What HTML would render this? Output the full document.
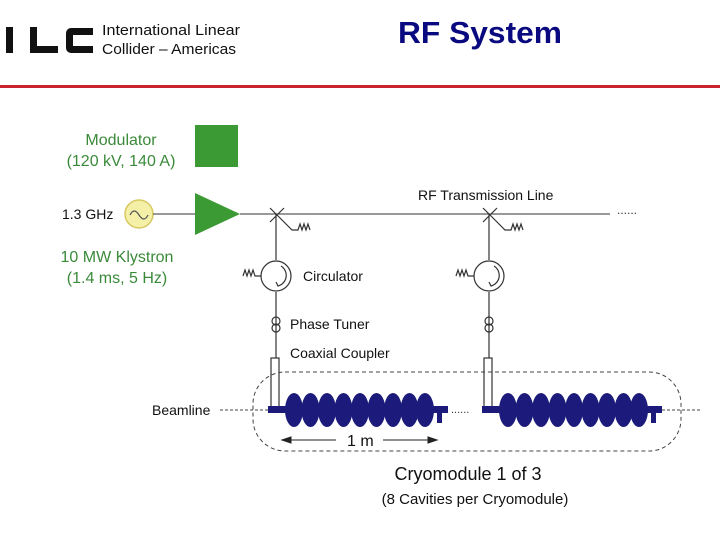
<!DOCTYPE html><html><head><style>body{margin:0;width:720px;height:540px;background:#fff;overflow:hidden}</style></head><body>
<svg width="720" height="540" xmlns="http://www.w3.org/2000/svg" font-family="Liberation Sans, sans-serif">
<!-- header -->
<rect x="6" y="27" width="7" height="26" fill="#111"/>
<path d="M30 27v26h28v-7H37V27z" fill="#111"/>
<path d="M93 28h-22a5 5 0 0 0-5 5v15a5 5 0 0 0 5 5h22v-7H73V35h20z" fill="#111"/>
<text x="102" y="35" font-size="15" fill="#111" textLength="138" lengthAdjust="spacingAndGlyphs">International Linear</text>
<text x="102" y="54" font-size="15" fill="#111" textLength="134" lengthAdjust="spacingAndGlyphs">Collider – Americas</text>
<text x="398" y="43" font-size="31" font-weight="bold" fill="#0a0a80" textLength="164" lengthAdjust="spacingAndGlyphs">RF System</text>
<rect x="0" y="85" width="720" height="3" fill="#c8262c"/>
<!-- modulator -->
<text x="121" y="145" font-size="16" fill="#3a8a3a" text-anchor="middle">Modulator</text>
<text x="121" y="166" font-size="16" fill="#3a8a3a" text-anchor="middle">(120 kV, 140 A)</text>
<rect x="195" y="125" width="43" height="42" fill="#3c9a34"/>
<text x="62" y="219" font-size="14" fill="#111">1.3 GHz</text>
<circle cx="139" cy="214" r="14" fill="#f4f0a8" stroke="#d8c860" stroke-width="1.5"/>
<path d="M130 215q4-8 9 0t9 0" fill="none" stroke="#555" stroke-width="1.2"/>
<line x1="153" y1="214" x2="195" y2="214" stroke="#333"/>
<polygon points="195,193 240,214 195,235" fill="#3c9a34"/>
<line x1="240" y1="214" x2="610" y2="214" stroke="#333"/>
<text x="617" y="214" font-size="12" fill="#333">......</text>
<text x="418" y="200" font-size="14" fill="#111">RF Transmission Line</text>
<text x="117" y="262" font-size="16" fill="#3a8a3a" text-anchor="middle">10 MW Klystron</text>
<text x="117" y="283" font-size="16" fill="#3a8a3a" text-anchor="middle">(1.4 ms, 5 Hz)</text>
<g stroke="#333" fill="none" stroke-width="1.2">
<path d="M276 214V260M276 292V358M270 208l14 14M284 208l-14 14M284 222l8 8h6l2-6 2 6 2-6 2 6 2-6 2 6"/>
<circle cx="276" cy="276" r="15"/>
<path d="M281 266a11 11 0 0 1-3 20l-2-4"/>
<path d="M261 276h-6l-2-6-2 6-2-6-2 6-2-6-2 6"/>
<circle cx="276" cy="321" r="4"/><circle cx="276" cy="328" r="4"/>
<rect x="271" y="358" width="8" height="50" fill="#fff"/>
<path d="M489 214V260M489 292V358M483 208l14 14M497 208l-14 14M497 222l8 8h6l2-6 2 6 2-6 2 6 2-6 2 6"/>
<circle cx="489" cy="276" r="15"/>
<path d="M494 266a11 11 0 0 1-3 20l-2-4"/>
<path d="M474 276h-6l-2-6-2 6-2-6-2 6-2-6-2 6"/>
<circle cx="489" cy="321" r="4"/><circle cx="489" cy="328" r="4"/>
<rect x="484" y="358" width="8" height="50" fill="#fff"/>
</g>
<text x="303" y="281" font-size="14" fill="#111">Circulator</text>
<text x="290" y="329" font-size="14" fill="#111">Phase Tuner</text>
<text x="290" y="358" font-size="14" fill="#111">Coaxial Coupler</text>
<rect x="253" y="372" width="428" height="79" rx="32" fill="none" stroke="#444" stroke-dasharray="4,3"/>
<line x1="220" y1="410" x2="268" y2="410" stroke="#444" stroke-dasharray="3,2"/>
<line x1="662" y1="410" x2="700" y2="410" stroke="#444" stroke-dasharray="3,2"/>
<text x="152" y="415" font-size="14" fill="#111">Beamline</text>
<text x="451" y="413" font-size="11" fill="#333">......</text>
<g fill="#1c1a7a">
<rect x="268" y="406" width="180" height="7"/>
<rect x="437" y="410" width="5" height="13"/>
<g id="cells">
<ellipse cx="294" cy="410" rx="9" ry="17"/><ellipse cx="310.5" cy="410" rx="9" ry="17"/><ellipse cx="327" cy="410" rx="9" ry="17"/><ellipse cx="343.5" cy="410" rx="9" ry="17"/><ellipse cx="360" cy="410" rx="9" ry="17"/><ellipse cx="376.5" cy="410" rx="9" ry="17"/><ellipse cx="393" cy="410" rx="9" ry="17"/><ellipse cx="409.5" cy="410" rx="9" ry="17"/><ellipse cx="425" cy="410" rx="9" ry="17"/>
</g>
<rect x="482" y="406" width="180" height="7"/>
<rect x="651" y="410" width="5" height="13"/>
<use href="#cells" transform="translate(214,0)"/>
</g>
<g stroke="#222" fill="#222">
<line x1="285" y1="440" x2="336" y2="440"/><polygon points="282,440 291,437 291,443"/>
<line x1="383" y1="440" x2="432" y2="440"/><polygon points="437,440 428,437 428,443"/>
</g>
<text x="347" y="446" font-size="16" fill="#111">1 m</text>
<text x="468" y="480" font-size="18" fill="#111" text-anchor="middle">Cryomodule 1 of 3</text>
<text x="475" y="504" font-size="15" fill="#111" text-anchor="middle">(8 Cavities per Cryomodule)</text>
</svg></body></html>
